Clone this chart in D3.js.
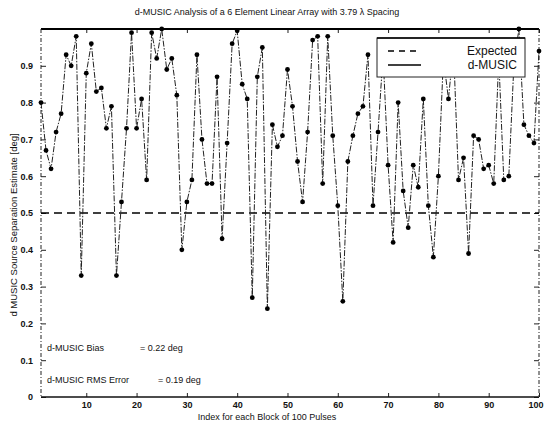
<!DOCTYPE html>
<html>
<head>
<meta charset="UTF-8">
<title>d-MUSIC Analysis</title>
<style>
  body { margin: 0; background: #fff; }
  svg { display: block; }
  text { font-family: "Liberation Sans", Arial, sans-serif; fill: #111; }
</style>
</head>
<body>
<svg></svg>
<script src="https://d3js.org/d3.v7.min.js"></script>
<script>

let width = 545, height = 425;

// data
let blockIndex = d3.range(1, 101);
let musicEstimate = [
  0.80, 0.67, 0.62, 0.72, 0.77, 0.93, 0.90, 0.98, 0.33, 0.88,
  0.96, 0.83, 0.84, 0.73, 0.79, 0.33, 0.53, 0.73, 0.99, 0.73,
  0.81, 0.59, 0.99, 0.92, 1.00, 0.89, 0.92, 0.82, 0.40, 0.53,
  0.59, 0.93, 0.70, 0.58, 0.58, 0.87, 0.43, 0.69, 0.96, 0.995,
  0.85, 0.81, 0.27, 0.87, 0.95, 0.24, 0.74, 0.68, 0.71, 0.89,
  0.79, 0.64, 0.53, 0.72, 0.97, 0.98, 0.58, 0.98, 0.71, 0.52,
  0.26, 0.64, 0.71, 0.77, 0.79, 0.93, 0.52, 0.72, 0.93, 0.63,
  0.42, 0.80, 0.56, 0.46, 0.63, 0.57, 0.81, 0.52, 0.38, 0.60,
  0.92, 0.81, 0.95, 0.59, 0.65, 0.39, 0.71, 0.70, 0.62, 0.63,
  0.58, 0.92, 0.59, 0.60, 0.90, 1.00, 0.74, 0.71, 0.69, 0.94
];
let expectedValue = 0.5;
let xTicks = [10, 20, 30, 40, 50, 60, 70, 80, 90, 100];
let yTicks = [0, 0.1, 0.2, 0.3, 0.4, 0.5, 0.6, 0.7, 0.8, 0.9];
let legendLabels = ["Expected", "d-MUSIC"];
let statLines = [
  ["d-MUSIC Bias", "=  0.22 deg"],
  ["d-MUSIC RMS Error", "=  0.19 deg"]
];

let svg = d3.select("svg")
    .attr("width", width)
    .attr("height", height);

let plotLeft = 41, plotRight = 539, plotTop = 29, plotBottom = 397;

let x = d3.scaleLinear().domain([1, 100]).range([plotLeft, plotRight]);
let y = d3.scaleLinear().domain([0, 1]).range([plotBottom, plotTop]);

// axes (ticks point inward, like matlab)
let xAxisG = svg.append("g")
    .attr("transform", "translate(0," + plotBottom + ")")
    .call(d3.axisBottom(x).tickValues(xTicks).tickSizeInner(-4).tickSizeOuter(0).tickPadding(5));
svg.append("g")
    .attr("transform", "translate(0," + plotTop + ")")
    .call(d3.axisTop(x).tickValues(xTicks).tickSizeInner(-4).tickSizeOuter(0).tickFormat(""));
svg.append("g")
    .attr("transform", "translate(" + plotLeft + ",0)")
    .call(d3.axisLeft(y).tickValues(yTicks).tickSizeInner(-5).tickSizeOuter(0).tickPadding(8)
        .tickFormat(d => d === 0 ? "0" : d3.format(".1f")(d)));
svg.append("g")
    .attr("transform", "translate(" + plotRight + ",0)")
    .call(d3.axisRight(y).tickValues(yTicks).tickSizeInner(-5).tickSizeOuter(0).tickFormat(""));

svg.selectAll(".domain").remove();
svg.selectAll(".tick line").attr("stroke", "#222").attr("stroke-width", 1);
svg.selectAll(".tick text")
    .style("font-size", "9px")
    .style("font-weight", "bold")
    .attr("fill", "#111");

// last x label sits at the right edge
xAxisG.selectAll(".tick text")
    .filter(d => d === 100)
    .attr("text-anchor", "end")
    .attr("dx", 4);

// box
svg.append("line").attr("x1", plotLeft).attr("x2", plotRight).attr("y1", plotTop).attr("y2", plotTop)
    .attr("stroke", "#000").attr("stroke-width", 2);
svg.append("line").attr("x1", plotLeft).attr("x2", plotRight).attr("y1", plotBottom).attr("y2", plotBottom)
    .attr("stroke", "#111").attr("stroke-width", 1.3);
svg.append("line").attr("x1", plotLeft).attr("x2", plotLeft).attr("y1", plotTop).attr("y2", plotBottom)
    .attr("stroke", "#222").attr("stroke-width", 1).attr("stroke-dasharray", "4,2,1,2");
svg.append("line").attr("x1", plotRight).attr("x2", plotRight).attr("y1", plotTop).attr("y2", plotBottom)
    .attr("stroke", "#222").attr("stroke-width", 1).attr("stroke-dasharray", "4,2,1,2");

// expected line
svg.append("line")
    .attr("x1", plotLeft).attr("x2", plotRight)
    .attr("y1", y(expectedValue)).attr("y2", y(expectedValue))
    .attr("stroke", "#000").attr("stroke-width", 1.6)
    .attr("stroke-dasharray", "8,5");

// d-MUSIC estimates
let line = d3.line()
    .x((d, i) => x(blockIndex[i]))
    .y(d => y(d));

svg.append("path")
    .datum(musicEstimate)
    .attr("d", line)
    .attr("fill", "none")
    .attr("stroke", "#222")
    .attr("stroke-width", 1)
    .attr("stroke-dasharray", "6,1.5,1.5,1.5");

svg.append("g")
    .selectAll("circle")
    .data(musicEstimate)
    .enter()
    .append("circle")
    .attr("cx", (d, i) => x(blockIndex[i]))
    .attr("cy", d => y(d))
    .attr("r", 2.4)
    .attr("fill", "#000");

// legend
let legend = svg.append("g").attr("transform", "translate(377,38)");
legend.append("rect")
    .attr("width", 148).attr("height", 39)
    .attr("fill", "#fff")
    .attr("stroke", "#222").attr("stroke-width", 1);
legend.append("line").attr("x1", 0).attr("x2", 148).attr("y1", 0).attr("y2", 0)
    .attr("stroke", "#000").attr("stroke-width", 1.6);
legendLabels.forEach((label, i) => {
    let ly = 13 + i * 14;
    legend.append("line")
        .attr("x1", 11).attr("x2", 44).attr("y1", ly).attr("y2", ly)
        .attr("stroke", "#000").attr("stroke-width", 1.3)
        .attr("stroke-dasharray", i === 0 ? "6,5" : null);
    legend.append("text")
        .attr("x", 140).attr("y", ly + 4)
        .attr("text-anchor", "end")
        .style("font-size", "12px")
        .text(label);
});

// statistics text
statLines.forEach((s, i) => {
    let sy = 351 + i * 32;
    svg.append("text").attr("x", 47).attr("y", sy)
        .style("font-size", "9px").text(s[0]);
    svg.append("text").attr("x", i === 0 ? 140 : 158).attr("y", sy)
        .style("font-size", "9px").text(s[1]);
});

// titles
svg.append("text")
    .attr("x", 267).attr("y", 15)
    .attr("text-anchor", "middle")
    .style("font-size", "9px")
    .text("d-MUSIC Analysis of a 6 Element Linear Array with 3.79 \u03bb Spacing");

svg.append("text")
    .attr("x", 267).attr("y", 420)
    .attr("text-anchor", "middle")
    .style("font-size", "9px")
    .text("Index for each Block of 100 Pulses");

svg.append("text")
    .attr("transform", "translate(17,225) rotate(-90)")
    .attr("text-anchor", "middle")
    .style("font-size", "9.5px")
    .text("d MUSIC Source Separation Estimate [deg]");

</script>
</body>
</html>
